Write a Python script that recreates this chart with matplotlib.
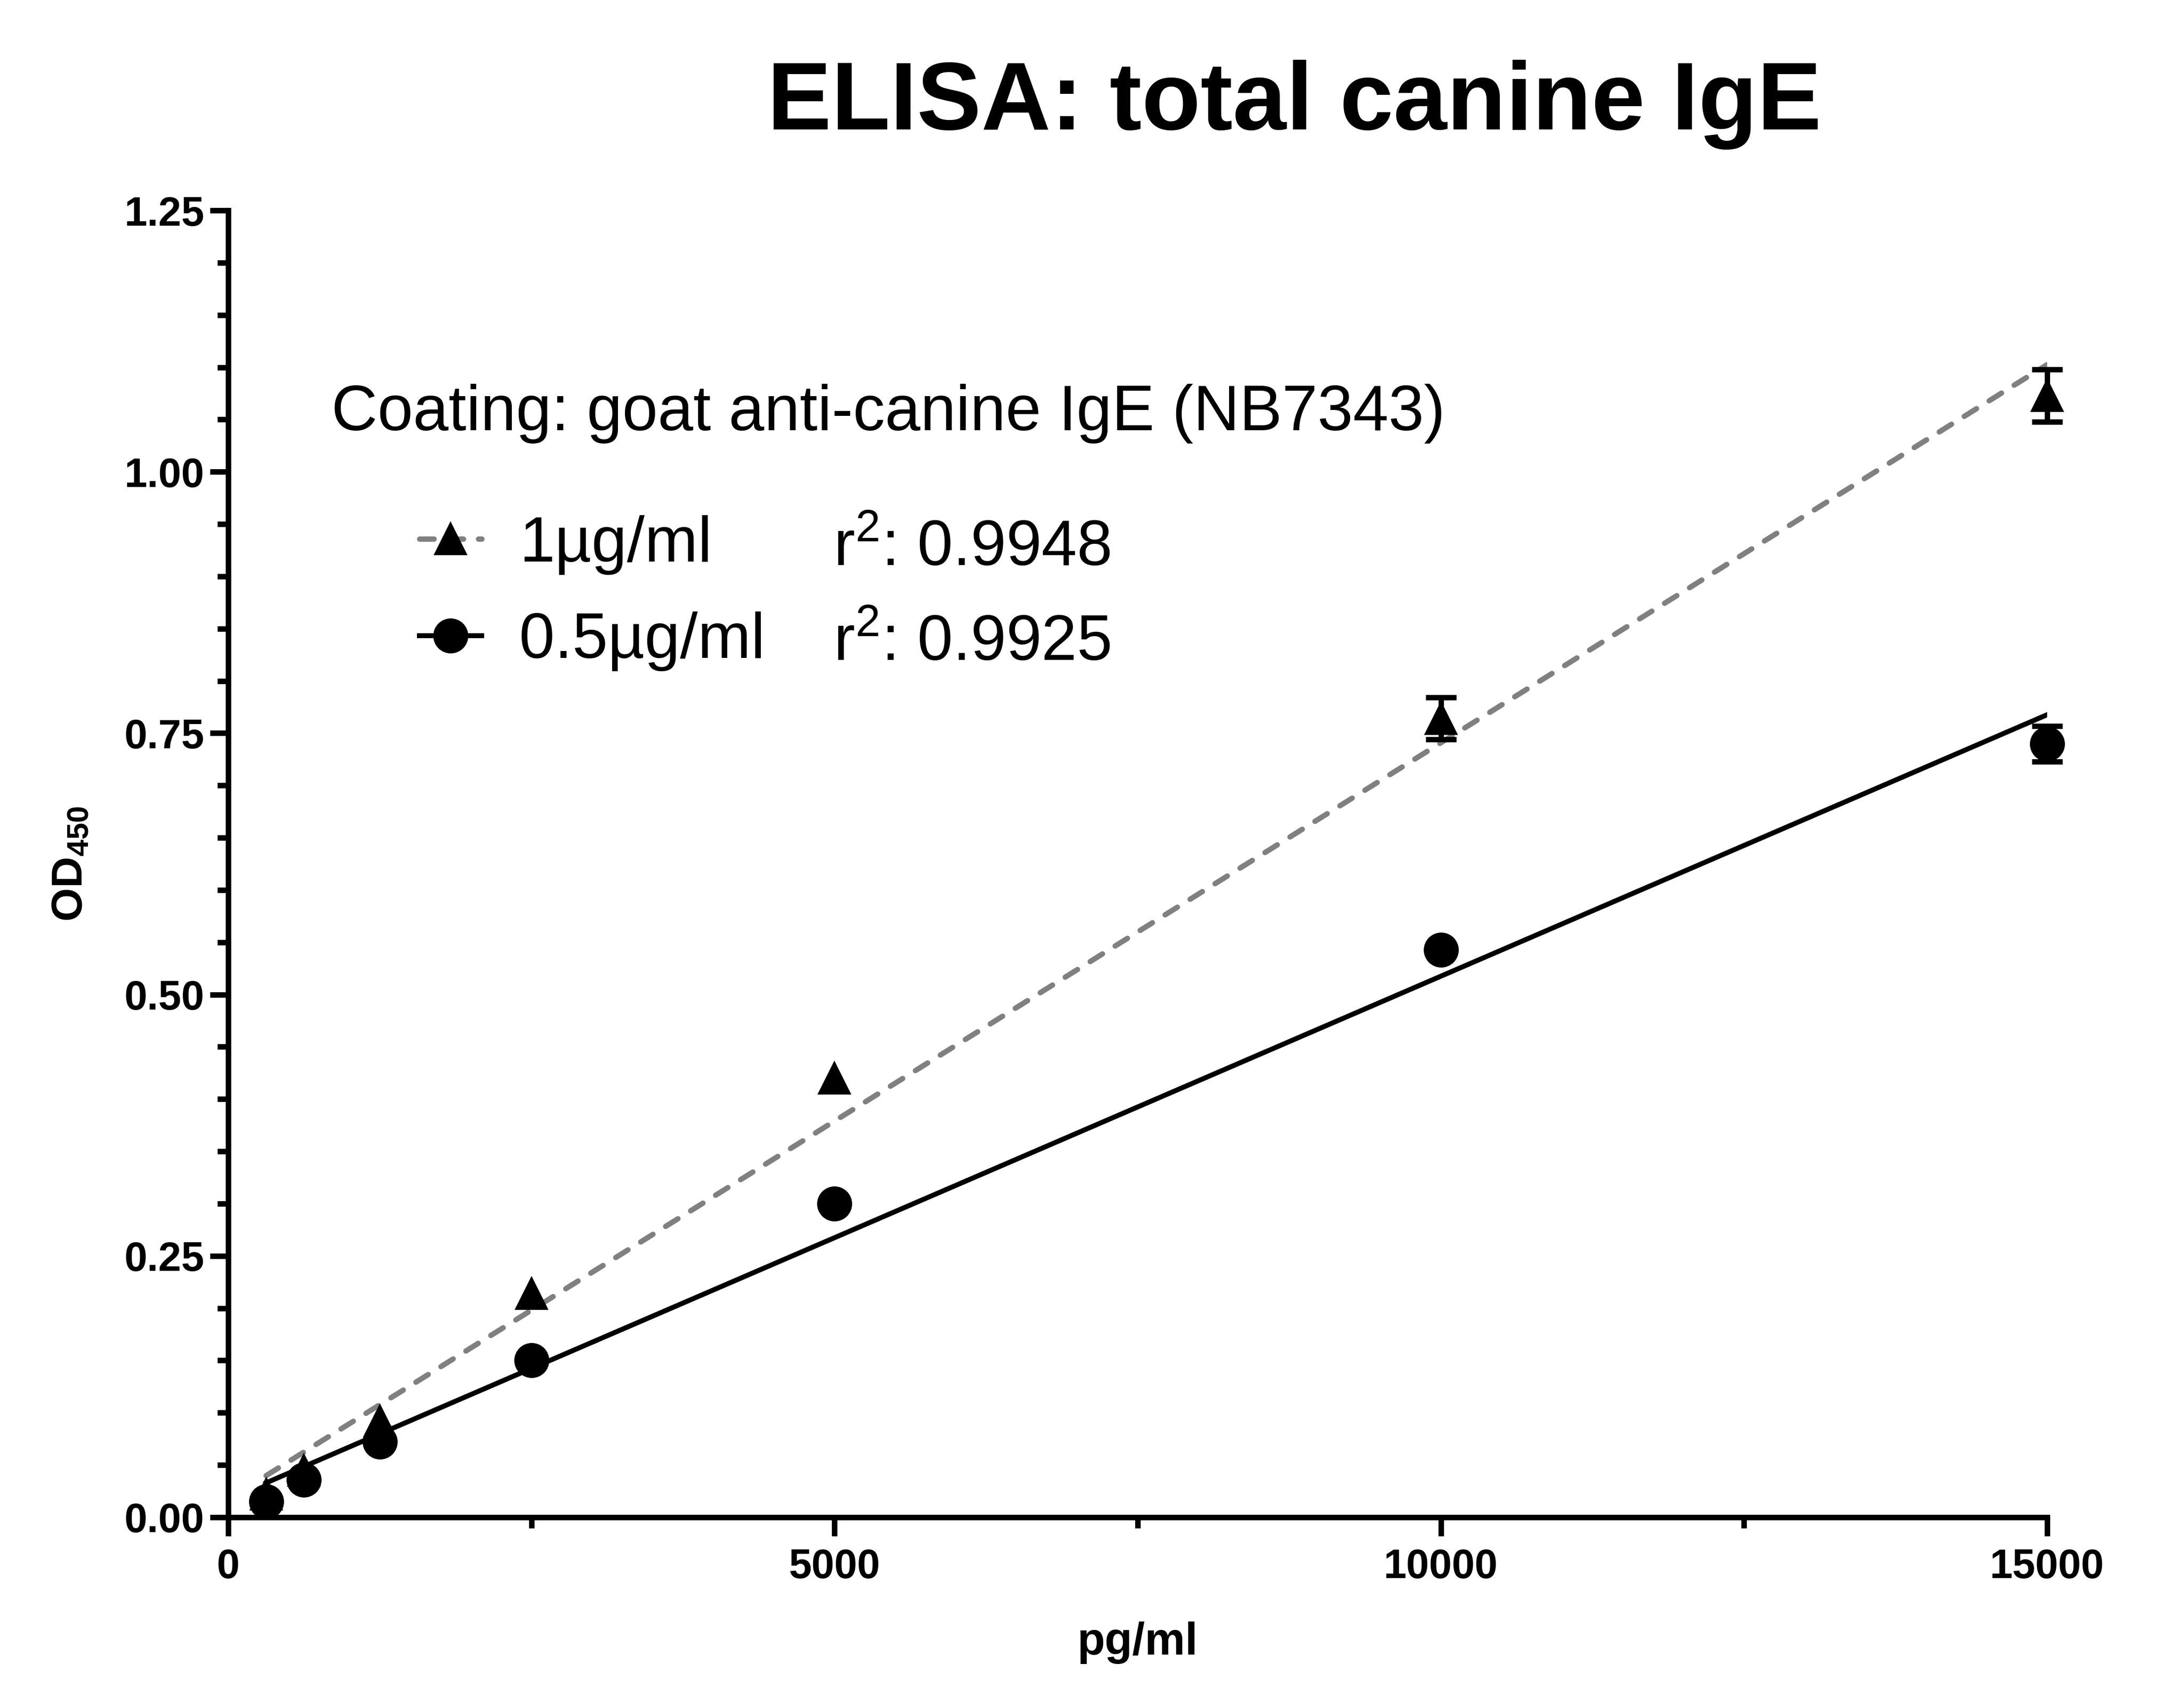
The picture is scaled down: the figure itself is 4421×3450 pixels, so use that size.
import matplotlib
matplotlib.use("Agg")
import matplotlib.pyplot as plt
import numpy as np

plt.rcParams['font.family'] = ['Liberation Sans', 'DejaVu Sans']
plt.rcParams['mathtext.fontset'] = 'custom'
plt.rcParams['mathtext.rm'] = 'Liberation Sans'
plt.rcParams['mathtext.bf'] = 'Liberation Sans:bold'
plt.rcParams['mathtext.default'] = 'regular'

# ELISA standard curve data
conc = [312.5, 625, 1250, 2500, 5000, 10000, 15000]          # pg/ml
od_1ug = [0.022, 0.045, 0.092, 0.214, 0.420, 0.764, 1.073]
err_1ug = [0, 0, 0, 0, 0, 0.020, 0.025]
od_05ug = [0.015, 0.036, 0.072, 0.150, 0.300, 0.543, 0.740]
err_05ug = [0, 0, 0, 0, 0, 0, 0.017]
r2_1ug = '0.9948'
r2_05ug = '0.9925'

x = np.array(conc)
fit_x = np.array([conc[0], conc[-1]])
k1, b1 = np.polyfit(x, od_1ug, 1)
k2, b2 = np.polyfit(x, od_05ug, 1)

# no error bar where the error is zero
e1 = np.where(np.array(err_1ug) > 0, err_1ug, np.nan)
e2 = np.where(np.array(err_05ug) > 0, err_05ug, np.nan)

grey = '#808080'
dash = (0, (2.7, 2.8))

fig = plt.figure(figsize=(4421 / 300, 3450 / 300), dpi=300)
ax = fig.add_axes([0.1045, 0.1096, 0.8328, 0.7669])

# fit lines
ax.plot(fit_x, k1 * fit_x + b1, color=grey, lw=2.6, ls=dash,
        dash_capstyle='round')
ax.plot(fit_x, k2 * fit_x + b2, color='black', lw=2.4)

# data points with error bars
ax.errorbar(x, od_1ug, yerr=e1, fmt='^', color='black', ms=15,
            capsize=7.5, capthick=2.6, elinewidth=2.6, zorder=3, clip_on=False)
ax.errorbar(x, od_05ug, yerr=e2, fmt='o', color='black', ms=16,
            capsize=7.5, capthick=2.6, elinewidth=2.6, zorder=3, clip_on=False)

# legend handles (line + marker)
h1, = ax.plot([], [], color=grey, lw=2.6, ls=dash, dash_capstyle='round',
              marker='^', ms=15, mfc='black', mec='black')
h2, = ax.plot([], [], color='black', lw=2.4, marker='o', ms=16,
              mfc='black', mec='black')
ax.legend([h1, h2], ['1µg/ml', '0.5µg/ml'], loc='upper left',
          bbox_to_anchor=(0.105, 0.767), frameon=False, fontsize=31,
          handlelength=0.98, handletextpad=0.59, labelspacing=0.58,
          borderpad=0, borderaxespad=0)
ax.text(0.3326, 0.7284, 'r$^2$: ' + r2_1ug, transform=ax.transAxes,
        fontsize=31, va='baseline', ha='left')
ax.text(0.3326, 0.656, 'r$^2$: ' + r2_05ug, transform=ax.transAxes,
        fontsize=31, va='baseline', ha='left')
ax.text(0.0567, 0.8445, 'Coating: goat anti-canine IgE (NB7343)',
        transform=ax.transAxes, fontsize=31, va='center', ha='left')

# axes
ax.set_xlim(0, 15000)
ax.set_ylim(0, 1.25)
ax.set_xticks([0, 5000, 10000, 15000])
ax.set_xticks([2500, 7500, 12500], minor=True)
ax.set_yticks([0, 0.25, 0.5, 0.75, 1.0, 1.25])
ax.set_yticks(np.arange(0, 1.2501, 0.05), minor=True)
ax.set_yticklabels(['0.00', '0.25', '0.50', '0.75', '1.00', '1.25'])
for lab in ax.get_xticklabels() + ax.get_yticklabels():
    lab.set_fontweight('bold')
ax.tick_params(axis='both', which='major', labelsize=20, width=2.7, length=9)
ax.tick_params(axis='both', which='minor', width=2.7, length=5.3)
ax.tick_params(axis='y', which='major', pad=2.5)
ax.tick_params(axis='x', which='major', pad=6)
ax.spines['top'].set_visible(False)
ax.spines['right'].set_visible(False)
ax.spines['left'].set_linewidth(2.7)
ax.spines['bottom'].set_linewidth(2.7)

ax.set_xlabel('pg/ml', fontsize=22, fontweight='bold', labelpad=17)
ax.set_ylabel(r'$\mathbf{OD}_{\mathbf{450}}$', fontsize=21, labelpad=16)

fig.text(0.5926, 0.9386, 'ELISA: total canine IgE', fontsize=46.8,
         fontweight='bold', ha='center', va='center')

fig.savefig('out.png', dpi=300)
